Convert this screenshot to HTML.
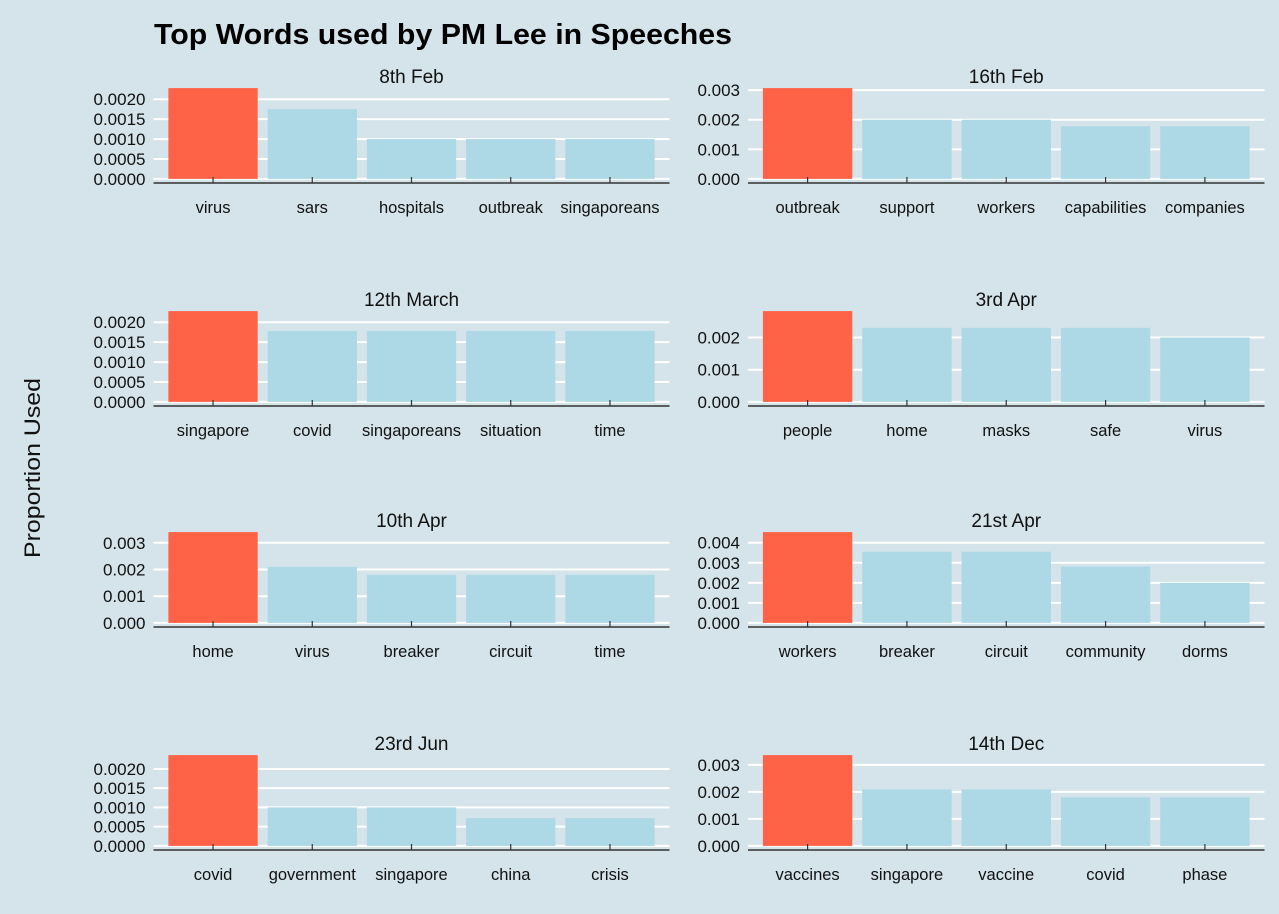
<!DOCTYPE html>
<html><head><meta charset="utf-8"><style>
html,body{margin:0;padding:0;background:#d5e4eb;}
svg{display:block;font-family:"Liberation Sans",sans-serif;}
</style></head><body>
<svg id="c" width="1279" height="914">
<rect width="1279" height="914" fill="#d5e4eb"/>
<text x="154" y="44" font-size="29" font-weight="bold" fill="#000" textLength="578" lengthAdjust="spacingAndGlyphs">Top Words used by PM Lee in Speeches</text>
<text transform="translate(40,468) rotate(-90)" text-anchor="middle" font-size="22" fill="#111" textLength="180" lengthAdjust="spacingAndGlyphs">Proportion Used</text>
</svg>
<script>
const titles = ["8th Feb","16th Feb","12th March","3rd Apr","10th Apr","21st Apr","23rd Jun","14th Dec"];
const words = [
 ["virus","sars","hospitals","outbreak","singaporeans"],
 ["outbreak","support","workers","capabilities","companies"],
 ["singapore","covid","singaporeans","situation","time"],
 ["people","home","masks","safe","virus"],
 ["home","virus","breaker","circuit","time"],
 ["workers","breaker","circuit","community","dorms"],
 ["covid","government","singapore","china","crisis"],
 ["vaccines","singapore","vaccine","covid","phase"]
];
const values = [
 [0.00228,0.00175,0.001,0.001,0.001],
 [0.00307,0.002,0.002,0.00178,0.00178],
 [0.00228,0.00178,0.00178,0.00178,0.00178],
 [0.00282,0.0023,0.0023,0.0023,0.002],
 [0.0034,0.0021,0.0018,0.0018,0.0018],
 [0.00453,0.00355,0.00355,0.00281,0.002],
 [0.00236,0.001,0.001,0.00072,0.00072],
 [0.00336,0.00209,0.00209,0.0018,0.0018]
];
const tickSets = [
 ["0.0000","0.0005","0.0010","0.0015","0.0020"],
 ["0.000","0.001","0.002","0.003"],
 ["0.0000","0.0005","0.0010","0.0015","0.0020"],
 ["0.000","0.001","0.002"],
 ["0.000","0.001","0.002","0.003"],
 ["0.000","0.001","0.002","0.003","0.004"],
 ["0.0000","0.0005","0.0010","0.0015","0.0020"],
 ["0.000","0.001","0.002","0.003"]
];
const svg=document.getElementById('c');
const NS='http://www.w3.org/2000/svg';
function mk(tag,attrs,parent){const e=document.createElementNS(NS,tag);for(const k in attrs)e.setAttribute(k,attrs[k]);(parent||svg).appendChild(e);return e;}
const colL=[153.5,748], colR=[669.5,1264.5];
const axisY=[183,406,627,850];
for(let p=0;p<8;p++){
 const col=p%2,row=Math.floor(p/2);
 const g=mk('g',{});
 
 
 const x0=colL[col],x1=colR[col],yb=axisY[row],yt=yb-99;
 const vals=values[p];const mx=Math.max(...vals);
 const d0=-0.045*mx,d1=1.045*mx;
 const y=v=>yb-(v-d0)/(d1-d0)*(yb-yt);
 const step=(x1-x0)/5.2;
 const cx=i=>x0+step*(0.6+i);
 const t=mk('text',{x:(x0+x1)/2,y:yt-1,'text-anchor':'middle','font-size':19,fill:'#111'},g);
 t.textContent=titles[p];
 
 
 tickSets[p].forEach(s=>{
  const v=parseFloat(s);const yy=y(v);
  const gl=mk('line',{x1:x0,x2:x1,y1:yy,y2:yy,stroke:'#fff','stroke-width':2},g);
  
  
  const tl=mk('text',{x:x0-8,y:yy+6,'text-anchor':'end','font-size':17,fill:'#111'},g);
  tl.textContent=s;
  
  
 });
 vals.forEach((v,i)=>{
  const r=mk('rect',{x:cx(i)-step*0.45,width:step*0.9,y:y(v),height:y(0)-y(v),fill:i===0?'#ff6347':'#add8e6'},g);
  
  
  const tk=mk('line',{x1:cx(i),x2:cx(i),y1:yb-6,y2:yb,stroke:'#333','stroke-width':1.2},g);
  
  
  const xl=mk('text',{x:cx(i),y:yb+30,'text-anchor':'middle','font-size':16.5,fill:'#111'},g);
  xl.textContent=words[p][i];
  
  
 });
 const ax=mk('line',{x1:x0,x2:x1,y1:yb,y2:yb,stroke:'#333','stroke-width':1.5},g);
 
 
}
</script>
</body></html>
